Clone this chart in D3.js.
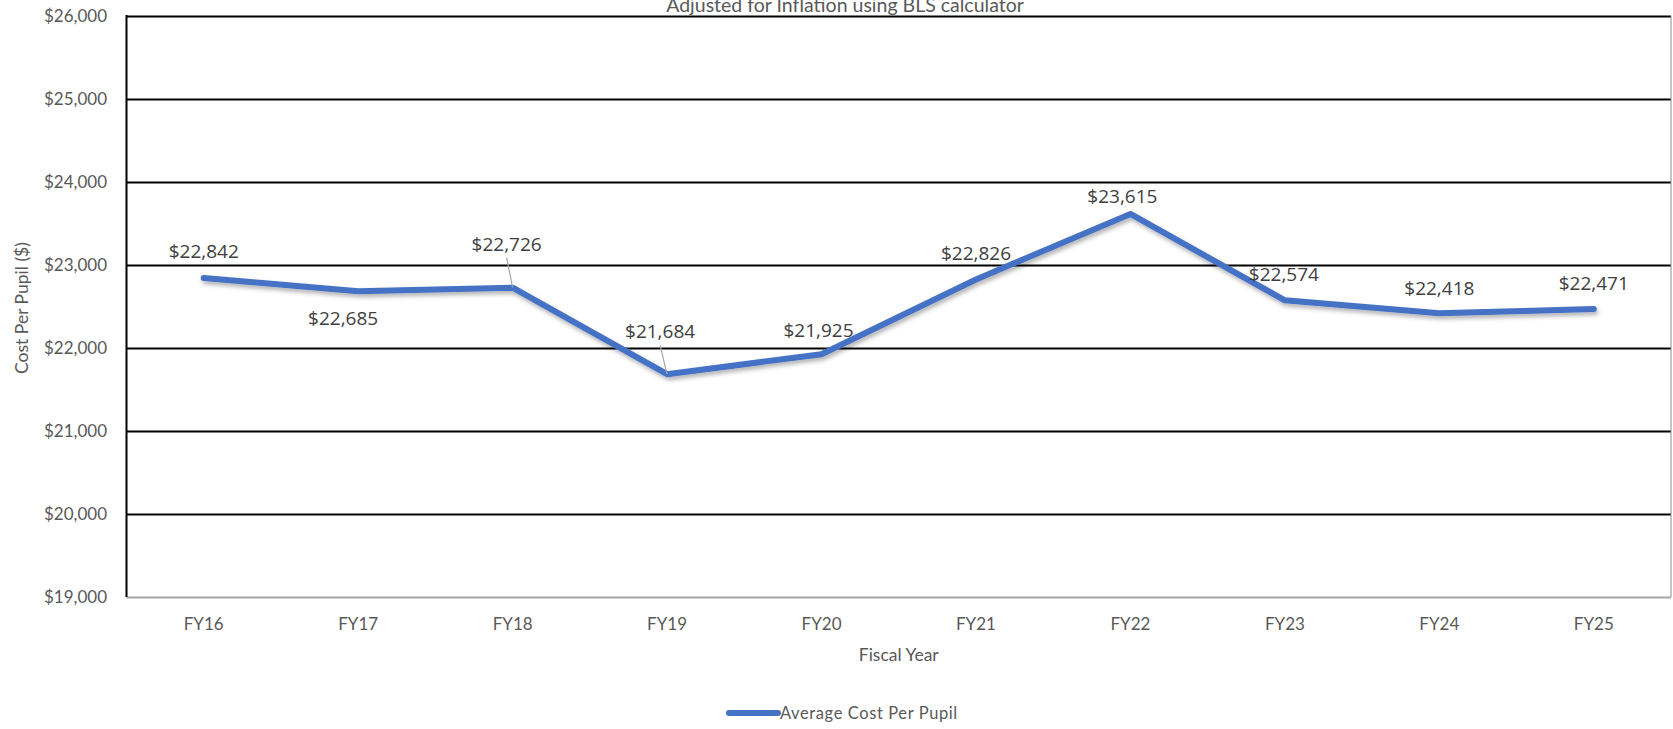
<!DOCTYPE html>
<html>
<head>
<meta charset="utf-8">
<script src="https://cdn.jsdelivr.net/npm/d3@7"></script>
<style>
  body { margin: 0; background: #fff; }
  text { font-family: Lato, "Open Sans", sans-serif; fill: #595959; }
  .label { font-family: "Open Sans", sans-serif; font-size: 19px; }
</style>
</head>
<body>
<div id="chart"></div>
<script>
/* DATA */
const years = ["FY16", "FY17", "FY18", "FY19", "FY20", "FY21", "FY22", "FY23", "FY24", "FY25"];
const costPerPupil = [22842, 22685, 22726, 21684, 21925, 22826, 23615, 22574, 22418, 22471];
const yTicks = [19000, 20000, 21000, 22000, 23000, 24000, 25000, 26000];
const seriesName = "Average Cost Per Pupil";
const titleText = "Adjusted for Inflation using BLS calculator";

// label placement, offset from each point (px) and whether a leader line is drawn
const labelOffsets = [[0, -27], [-15, 27], [-6, -44], [-7, -43], [-3, -24], [0, -26], [-8, -18], [-1, -26], [0, -25], [0, -26]];
const leaders = [false, false, true, true, false, false, false, false, false, false];

const width = 1673, height = 729;
const margin = { top: 16, bottom: 132, left: 126.5, right: 2 };

const svg = d3.select("#chart").append("svg")
  .attr("width", width)
  .attr("height", height);

const defs = svg.append("defs");
const shadow = defs.append("filter").attr("id", "shadow")
  .attr("x", "-5%").attr("y", "-20%").attr("width", "110%").attr("height", "140%");
shadow.append("feDropShadow")
  .attr("dx", 1.5).attr("dy", 3).attr("stdDeviation", 2)
  .attr("flood-color", "#000").attr("flood-opacity", 0.3);

const xScale = d3.scaleBand()
  .domain(years)
  .range([margin.left, width - margin.right]);

const yScale = d3.scaleLinear()
  .domain([19000, 26000])
  .range([height - margin.bottom, margin.top]);

const plotW = width - margin.right - margin.left;
const fmt = d => "$" + d3.format(",")(d);

// y axis + gridlines
const yAxis = svg.append("g")
  .attr("transform", `translate(${margin.left},0)`)
  .call(d3.axisLeft(yScale).tickValues(yTicks).tickSize(-plotW).tickPadding(19.5).tickFormat(fmt));
yAxis.select(".domain").remove();
yAxis.selectAll(".tick line")
  .attr("stroke", d => d === 19000 ? "#a6a6a6" : "#000")
  .attr("stroke-width", 2);
yAxis.selectAll(".tick text")
  .style("font-size", "17px")
  .attr("fill", "#595959");

// plot borders
svg.append("line")
  .attr("x1", margin.left).attr("x2", margin.left)
  .attr("y1", yScale(26000) - 1).attr("y2", yScale(19000))
  .attr("stroke", "#000").attr("stroke-width", 2);
svg.append("line")
  .attr("x1", width - margin.right).attr("x2", width - margin.right)
  .attr("y1", yScale(26000)).attr("y2", yScale(19000))
  .attr("stroke", "#8c8c8c").attr("stroke-width", 1);

// x axis
const xAxis = svg.append("g")
  .attr("transform", `translate(0,${height - margin.bottom})`)
  .call(d3.axisBottom(xScale).tickSize(0).tickPadding(21));
xAxis.select(".domain").remove();
xAxis.selectAll(".tick text")
  .style("font-size", "17px")
  .attr("fill", "#595959");

// axis titles
svg.append("text")
  .attr("x", (margin.left + width - margin.right) / 2)
  .attr("y", 661)
  .attr("text-anchor", "middle")
  .style("font-size", "17.5px")
  .text("Fiscal Year");

svg.append("text")
  .attr("transform", "translate(28,308) rotate(-90)")
  .attr("text-anchor", "middle")
  .style("font-size", "17.5px")
  .text("Cost Per Pupil ($)");

// title (clipped at top, as in the source)
svg.append("text")
  .attr("x", 845)
  .attr("y", 12)
  .attr("text-anchor", "middle")
  .style("font-size", "19.5px")
  .text(titleText);

// line
const points = years.map((y, i) => ({ year: y, value: costPerPupil[i] }));
const cx = d => xScale(d.year) + xScale.bandwidth() / 2;

const line = d3.line()
  .x(d => cx(d))
  .y(d => yScale(d.value));

svg.append("path")
  .datum(points)
  .attr("d", line)
  .attr("fill", "none")
  .attr("stroke", "#4472C4")
  .attr("stroke-width", 6)
  .attr("stroke-linejoin", "round")
  .attr("stroke-linecap", "round")
  .attr("filter", "url(#shadow)");

// leader lines
svg.selectAll("line.leader")
  .data(points.filter((d, i) => leaders[i]))
  .join("line")
  .attr("class", "leader")
  .attr("x1", d => cx(d) + labelOffsets[years.indexOf(d.year)][0])
  .attr("y1", d => yScale(d.value) + labelOffsets[years.indexOf(d.year)][1] + 14)
  .attr("x2", d => cx(d))
  .attr("y2", d => yScale(d.value))
  .attr("stroke", "#a6a6a6")
  .attr("stroke-width", 1.2);

// data labels
svg.selectAll("text.label")
  .data(points)
  .join("text")
  .attr("class", "label")
  .attr("x", (d, i) => cx(d) + labelOffsets[i][0])
  .attr("y", (d, i) => yScale(d.value) + labelOffsets[i][1])
  .attr("dy", "0.36em")
  .attr("text-anchor", "middle")
  .style("fill", "#404040")
  .text(d => fmt(d.value));

// legend
const legend = svg.append("g").attr("transform", "translate(729,713)");
legend.append("line")
  .attr("x1", 0).attr("x2", 49)
  .attr("stroke", "#4472C4")
  .attr("stroke-width", 6)
  .attr("stroke-linecap", "round");
legend.append("text")
  .attr("x", 51)
  .attr("dy", "0.35em")
  .style("font-size", "16.5px")
  .style("letter-spacing", "0.6px")
  .text(seriesName);
</script>
</body>
</html>
